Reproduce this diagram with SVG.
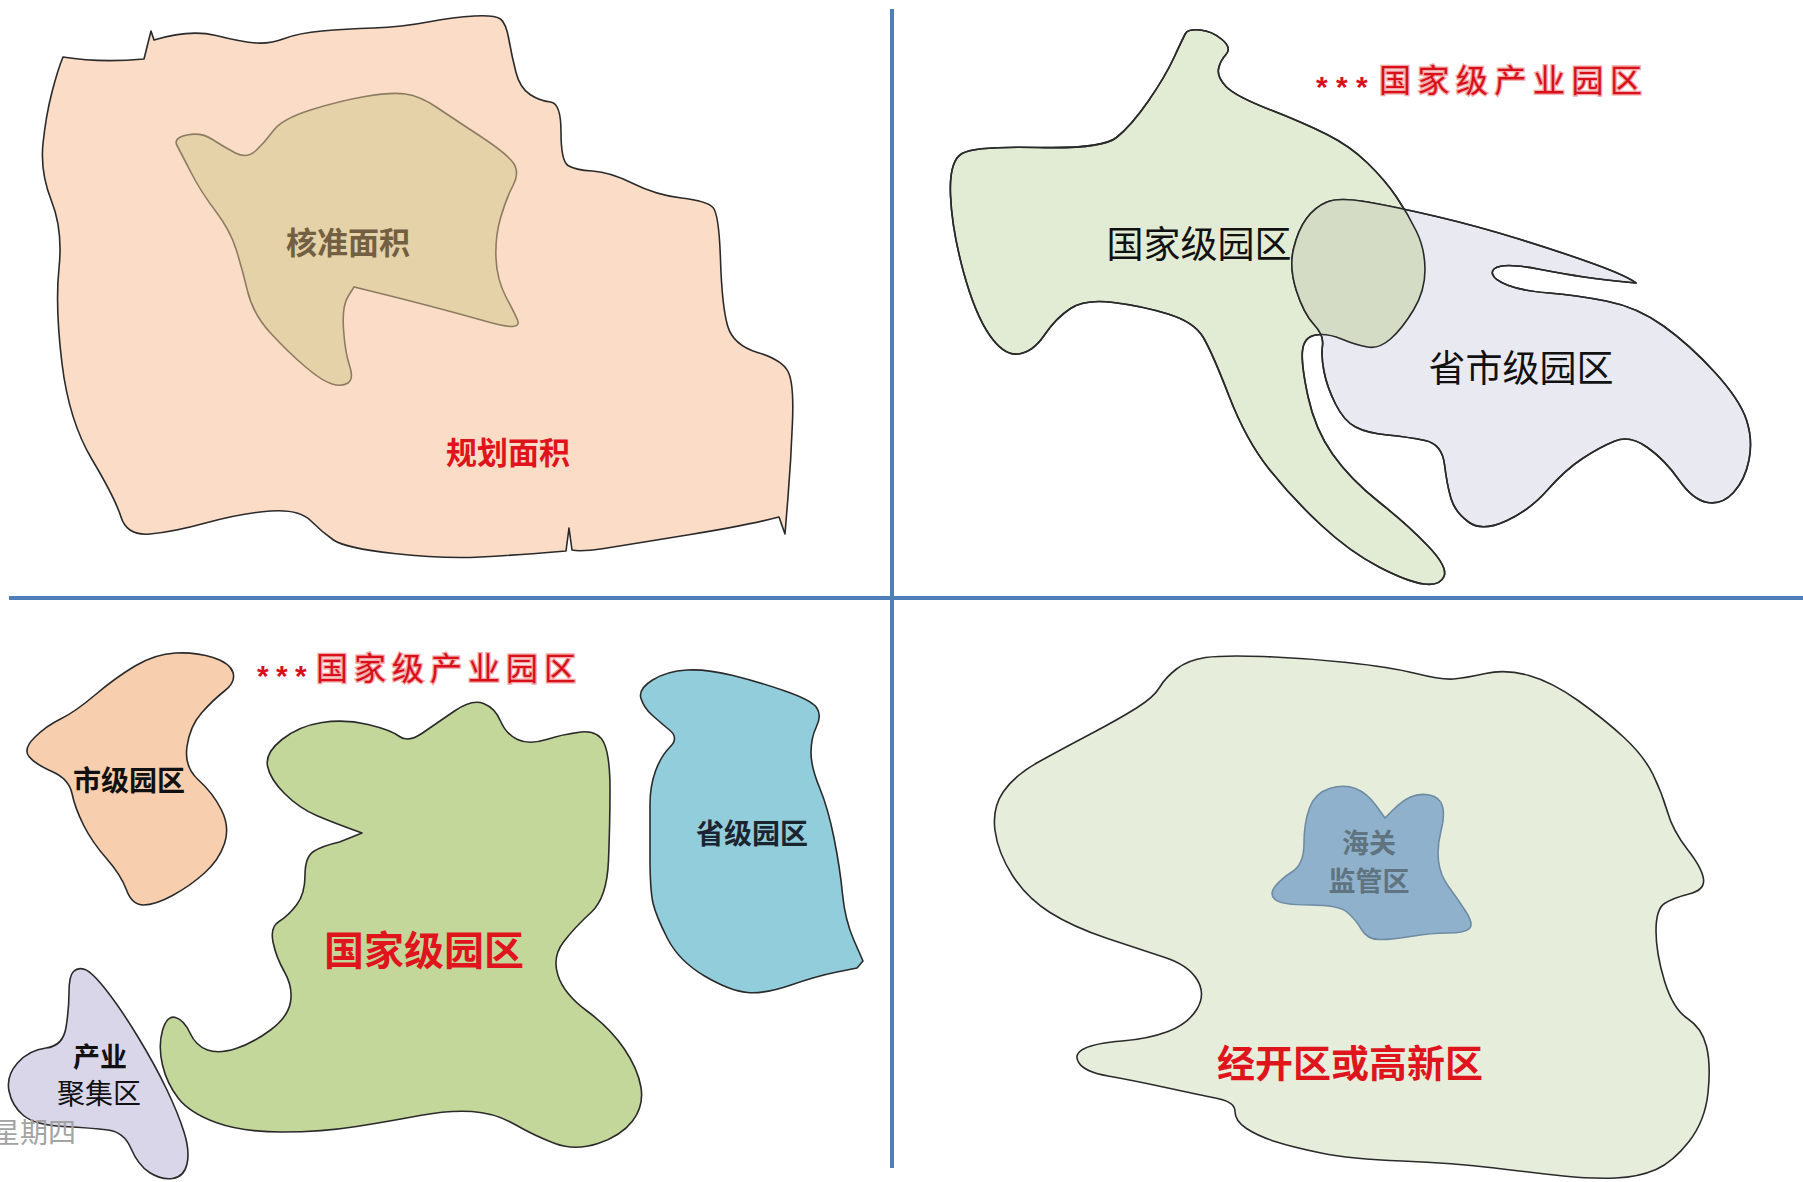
<svg xmlns="http://www.w3.org/2000/svg" width="1803" height="1182" viewBox="0 0 1803 1182">
<style>
.sh{stroke:#2a2a2a;stroke-width:1.6;stroke-linejoin:round}
.t{font-family:"Noto Sans CJK SC","Noto Sans",sans-serif;text-anchor:middle;dominant-baseline:central}
.b{font-weight:bold}
.red{fill:#e0141c}
.blk{fill:#111}
.title{font-family:"Noto Sans CJK SC","Noto Sans",sans-serif;font-size:32px;fill:#d8101a;stroke:#f2a8a8;stroke-width:2.6;paint-order:stroke;dominant-baseline:central}
.ast{font-family:"Liberation Sans",sans-serif;font-size:30px;font-weight:bold;fill:#d8101a;dominant-baseline:central}
</style>
<defs>
<path id="pG" d="M 1200,30 Q 1212,31 1222,39.5 Q 1232,48 1226,54.5 Q 1220,61 1218.5,69 Q 1217,77 1226,86.5 Q 1235,96 1269.5,109.5 Q 1304,123 1327,134.5 Q 1350,146 1367.5,163 Q 1385,180 1396.5,197 Q 1408,214 1416.5,231.5 Q 1425,249 1425,270 Q 1425,291 1413.5,310 Q 1402,329 1390.5,339 Q 1379,349 1367.5,347 Q 1356,345 1341.5,339 Q 1327,333 1315.5,335 Q 1304,337 1302.5,350.5 Q 1301,364 1308,396.5 Q 1315,429 1332.5,454 Q 1350,479 1379,502 Q 1408,525 1428,546 Q 1448,567 1444,576.5 Q 1440,586 1424,584 Q 1408,582 1379,567 Q 1350,552 1321,525 Q 1292,498 1269,469 Q 1246,440 1229,396 Q 1212,352 1203,337 Q 1194,322 1168,314 Q 1142,306 1113.5,302.5 Q 1085,299 1070.5,308.5 Q 1056,318 1044.5,335 Q 1033,352 1018.5,354 Q 1004,356 989.5,335 Q 975,314 963.5,272 Q 952,230 950.5,195.5 Q 949,161 962,153.5 Q 975,146 1038.5,147.5 Q 1102,149 1116.5,137.5 Q 1131,126 1148,101.5 Q 1165,77 1174,57.5 Q 1183,38 1185.5,33.5 Q 1188,29 1200,30 Z"/>
<path id="pL" d="M 1367.5,202 Q 1396,207 1436.5,216.5 Q 1477,226 1520.5,239.5 Q 1564,253 1595.5,264.5 Q 1627,276 1636,283 Q 1604,280 1584,277 Q 1564,274 1538,269 Q 1512,264 1501.5,266 Q 1491,268 1492.5,274 Q 1494,280 1508.5,285.5 Q 1523,291 1549,293 Q 1575,295 1606,301 Q 1637,307 1663.5,326 Q 1690,345 1715,372.5 Q 1740,400 1746.5,420 Q 1753,440 1749,460 Q 1745,480 1733.5,492.5 Q 1722,505 1707.5,502.5 Q 1693,500 1679,480 Q 1665,460 1647.5,447.5 Q 1630,435 1615,441 Q 1600,447 1582.5,458.5 Q 1565,470 1547.5,490 Q 1530,510 1506,521 Q 1482,532 1468.5,522 Q 1455,512 1451,498.5 Q 1447,485 1444.5,464.5 Q 1442,444 1425,440.5 Q 1408,437 1387.5,435 Q 1367,433 1355.5,427 Q 1344,421 1335.5,404 Q 1327,387 1324,371.5 Q 1321,356 1322.5,345.5 Q 1324,335 1314,324.5 Q 1304,314 1296.5,291 Q 1289,268 1293.5,249 Q 1298,230 1306.5,218.5 Q 1315,207 1327,202 Q 1339,197 1367.5,202 Z"/>
<clipPath id="cG"><use href="#pG"/></clipPath>
</defs>
<rect width="1803" height="1182" fill="#ffffff"/>
<g id="connectors">
<line x1="892" y1="9" x2="892" y2="1168" stroke="#4f7fb8" stroke-width="4"/>
<line x1="9" y1="598" x2="1803" y2="598" stroke="#4f7fb8" stroke-width="4"/>
</g>
<g id="planned-area">
<path class="sh" fill="#fbdcc6" d="M 63,57 Q 100,63 144,59 L 151,31 L 154,40 Q 190,29 216,35.5 Q 242,42 256,43 Q 270,44 284.5,38.5 Q 299,33 322,31 Q 345,29 373.5,28 Q 402,27 428,22 Q 454,17 474.5,16 Q 495,15 500.5,19 Q 506,23 509,40 Q 512,57 516,72.5 Q 520,88 530,94.5 Q 540,101 550.5,102 Q 561,103 561,132 Q 561,161 568,165.5 Q 575,170 592.5,171 Q 610,172 633,183.5 Q 656,195 681.5,198 Q 707,201 713,207.5 Q 719,214 720.5,260 Q 722,306 727.5,325.5 Q 733,345 757.5,352.5 Q 782,360 788,371.5 Q 794,383 792.5,421.5 Q 791,460 788,497 L 785,534 L 779,517 Q 748,525 690.5,534.5 Q 633,544 604,548.5 Q 580,552 572,550 L 569,528 L 566,551 Q 518,555 480.5,557 Q 443,559 394,553.5 Q 345,548 333.5,540 Q 322,532 310.5,520.5 Q 299,509 270.5,511 Q 242,513 207.5,522.5 Q 173,532 150,534 Q 127,536 121,517 Q 115,498 92,459.5 Q 69,421 62,363.5 Q 55,306 59,268 Q 63,230 51.5,201 Q 40,172 43,143.5 Q 46,115 52,92 Q 58,69 63,57 Z"/>
<text class="t b red" x="508" y="450" font-size="31">规划面积</text>
</g>
<g id="approved-area">
<path fill="#e6d2a8" stroke="#8c7d62" stroke-width="1.6" d="M 187,135 Q 201,132 212.5,139.5 Q 224,147 235.5,153 Q 247,159 256,150.5 Q 265,142 273.5,130.5 Q 282,119 310.5,110 Q 339,101 365,96.5 Q 391,92 405.5,94 Q 420,96 437,107.5 Q 454,119 480,136 Q 506,153 513,162.5 Q 520,172 513,185.5 Q 506,199 500.5,218 Q 495,237 496,258.5 Q 497,280 506,297 Q 515,314 517.5,320 Q 520,326 513,326.5 Q 506,327 483,320.5 Q 460,314 431.5,306.5 Q 403,299 378.5,293 L 354,287 L 348,296.5 Q 342,306 343.5,329 Q 345,352 349.5,365.5 Q 354,379 348,383 Q 342,387 332,384 Q 322,381 305,366.5 Q 288,352 270.5,333 Q 253,314 247.5,291 Q 242,268 236,249 Q 230,230 215.5,211 Q 201,192 191,172.5 Q 181,153 177,145.5 Q 173,138 187,135 Z"/>
<text class="t b" x="348" y="240" font-size="31" fill="#735f42">核准面积</text>
</g>
<g id="title-tr">
<text class="ast" x="1316 1336 1356" y="86">***</text>
<text class="title" x="1379 1417.5 1456 1494.5 1533 1571.5 1610" y="78">国家级产业园区</text>
</g>
<g id="national-park-tr">
<use href="#pG" class="sh" fill="#e2ebd3"/>
</g>
<g id="provincial-park-tr">
<use href="#pL" class="sh" fill="#e9e9f2"/>
<use href="#pL" fill="#d4dcc5" clip-path="url(#cG)"/>
<use href="#pG" class="sh" fill="none"/>
<use href="#pL" class="sh" fill="none"/>
</g>
<text class="t blk" x="1199" y="242" font-size="37">国家级园区</text>
<text class="t blk" x="1521" y="366" font-size="37">省市级园区</text>
<g id="title-bl">
<text class="ast" x="257 276 295" y="675">***</text>
<text class="title" x="316 354 392 430 468 506 544" y="666">国家级产业园区</text>
</g>
<g id="city-park">
<path class="sh" fill="#f8cfae" d="M 175.5,653 Q 196,652 213,657.5 Q 230,663 233,672.5 Q 236,682 224.5,691 Q 213,700 201.5,713 Q 190,726 187,746.5 Q 184,767 198.5,780 Q 213,793 221.5,810 Q 230,827 224.5,843.5 Q 219,860 204.5,873 Q 190,886 172.5,895.5 Q 155,905 143.5,905 Q 132,905 126.5,890 Q 121,875 106.5,858.5 Q 92,842 83.5,825 Q 75,808 72,793.5 Q 69,779 52,771.5 Q 35,764 29,756.5 Q 23,749 34.5,737.5 Q 46,726 60.5,719 Q 75,712 95,695 Q 115,678 135,666 Q 155,654 175.5,653 Z"/>
<text class="t b blk" x="129" y="779" font-size="28">市级园区</text>
</g>
<g id="national-park-bl">
<path class="sh" fill="#c4d79b" d="M 282,739.5 Q 299,726 322,722.5 Q 345,719 368,724.5 Q 391,730 399.5,736.5 Q 408,743 422.5,733 Q 437,723 454.5,711 Q 472,699 483.5,703.5 Q 495,708 500.5,721 Q 506,734 517.5,739.5 Q 529,745 546.5,739.5 Q 564,734 581,732 Q 598,730 604,743 Q 610,756 610,789.5 Q 610,823 608.5,860.5 Q 607,898 591,912.5 Q 575,927 563.5,942 Q 552,957 558,975.5 Q 564,994 587,1011 Q 610,1028 624,1048.5 Q 638,1069 641,1087.5 Q 644,1106 632.5,1121 Q 621,1136 598,1143.5 Q 575,1151 555,1143.5 Q 535,1136 515,1124.5 Q 495,1113 472,1111.5 Q 449,1110 420,1115.5 Q 391,1121 356.5,1126.5 Q 322,1132 282,1132 Q 242,1132 216,1122.5 Q 190,1113 178.5,1098.5 Q 167,1084 162.5,1065 Q 158,1046 162.5,1030.5 Q 167,1015 175.5,1017.5 Q 184,1020 190,1033 Q 196,1046 207.5,1050 Q 219,1054 236,1048.5 Q 253,1043 270.5,1030 Q 288,1017 290.5,1002 Q 293,987 284.5,972 Q 276,957 273,942 Q 270,927 279,921.5 Q 288,916 296.5,905 Q 305,894 305,875.5 Q 305,857 313.5,851.5 Q 322,846 339.5,842 L 362,833 Q 334,823 316.5,815.5 Q 299,808 284.5,793.5 Q 270,779 267.5,766 Q 265,753 282,739.5 Z"/>
<text class="t b red" x="424" y="948" font-size="40">国家级园区</text>
</g>
<g id="provincial-park-bl">
<path class="sh" fill="#92cddc" d="M 652.5,680 Q 667,671 687,670 Q 707,669 733,675.5 Q 759,682 785,691 Q 811,700 816.5,707.5 Q 822,715 816.5,726.5 Q 811,738 811,752.5 Q 811,767 819.5,787.5 Q 828,808 834,838 Q 840,868 842.5,894 Q 845,920 854,940.5 L 863,961 L 857,968 Q 847,970 837,972 Q 817,976 791,985 Q 765,994 747.5,992.5 Q 730,991 704.5,976 Q 679,961 667.5,938.5 Q 656,916 653,903 Q 650,890 650,856.5 Q 650,823 650,804.5 Q 650,786 655.5,771 Q 661,756 670,747 Q 679,738 670,730.5 Q 661,723 652.5,715.5 Q 644,708 641,698.5 Q 638,689 652.5,680 Z"/>
<text class="t b" x="752" y="832" font-size="28" fill="#1a2530">省级园区</text>
</g>
<g id="industry-cluster">
<path class="sh" fill="#d9d6ea" d="M 85,969.5 Q 92,972 106.5,990.5 Q 121,1009 138,1037 Q 155,1065 166.5,1089 Q 178,1113 184,1132 Q 190,1151 187,1164 Q 184,1177 172.5,1178.5 Q 161,1180 149.5,1172.5 Q 138,1165 131,1148.5 Q 124,1132 108,1130 Q 92,1128 63.5,1126.5 Q 35,1125 23.5,1115.5 Q 12,1106 9,1091 Q 6,1076 17.5,1063 Q 29,1050 46,1048 Q 63,1046 66,1027.5 Q 69,1009 69,992.5 Q 69,976 73.5,971.5 Q 78,967 85,969.5 Z"/>
<text class="t b blk" x="100" y="1055" font-size="27">产业</text>
<text class="t blk" x="99" y="1092" font-size="28">聚集区</text>
</g>
<text x="76" y="1131" font-family="Noto Sans CJK SC, sans-serif" font-size="28" fill="#a3a3a3" text-anchor="end" dominant-baseline="central">星期四</text>
<g id="dev-zone">
<path class="sh" fill="#e6eedb" d="M 1205.5,657.5 Q 1223,655 1263.5,656.5 Q 1304,658 1347,662.5 Q 1390,667 1416,673.5 Q 1442,680 1453.5,679 Q 1465,678 1485.5,673.5 Q 1506,669 1529,675.5 Q 1552,682 1578,700.5 Q 1604,719 1624,737.5 Q 1644,756 1653,774.5 Q 1662,793 1667.5,812 Q 1673,831 1687.5,849.5 Q 1702,868 1703.5,879 Q 1705,890 1689,894 Q 1673,898 1664.5,903.5 Q 1656,909 1656,931 Q 1656,953 1664.5,981 Q 1673,1009 1687.5,1018.5 Q 1702,1028 1706.5,1046.5 Q 1711,1065 1708,1093 Q 1705,1121 1689,1141.5 Q 1673,1162 1656,1169.5 Q 1639,1177 1615.5,1178 Q 1592,1179 1563.5,1176 Q 1535,1173 1494.5,1168 Q 1454,1163 1402,1161 Q 1350,1159 1321,1153 Q 1292,1147 1275,1141.5 Q 1258,1136 1246.5,1128.5 Q 1235,1121 1235,1111.5 Q 1235,1102 1217.5,1098.5 Q 1200,1095 1165.5,1087.5 Q 1131,1080 1108,1076 Q 1085,1072 1079,1063 Q 1073,1054 1084.5,1048.5 Q 1096,1043 1122,1041 Q 1148,1039 1168,1031.5 Q 1188,1024 1197,1009 Q 1206,994 1197,979.5 Q 1188,965 1165,957.5 Q 1142,950 1107.5,938.5 Q 1073,927 1050,912.5 Q 1027,898 1012.5,875.5 Q 998,853 995,830.5 Q 992,808 1003.5,791.5 Q 1015,775 1038.5,762 Q 1062,749 1090.5,734 Q 1119,719 1136.5,708 Q 1154,697 1159.5,687.5 Q 1165,678 1176.5,669 Q 1188,660 1205.5,657.5 Z"/>
<text class="t b red" x="1350" y="1060" font-size="38">经开区或高新区</text>
</g>
<g id="customs-zone">
<path fill="#8fb1cb" stroke="#6f8ba3" stroke-width="1.6" d="M 1329.5,788.5 Q 1344,784 1355.5,788.5 Q 1367,793 1376,805.5 L 1385,818 L 1393.5,809.5 Q 1402,801 1410.5,797 Q 1419,793 1429.5,795 Q 1440,797 1442.5,806.5 Q 1445,816 1441,831 Q 1437,846 1438.5,860.5 Q 1440,875 1448.5,886.5 Q 1457,898 1465.5,911 Q 1474,924 1469.5,928.5 Q 1465,933 1448,933 Q 1431,933 1410.5,936.5 Q 1390,940 1378.5,939.5 Q 1367,939 1361.5,929.5 Q 1356,920 1347.5,912.5 Q 1339,905 1310,905 Q 1281,905 1275,899.5 Q 1269,894 1275,886.5 Q 1281,879 1292.5,871.5 Q 1304,864 1304,843.5 Q 1304,823 1309.5,808 Q 1315,793 1329.5,788.5 Z"/>
<text class="t b" x="1369" y="841" font-size="27" fill="#5f7380">海关</text>
<text class="t b" x="1369" y="879" font-size="27" fill="#5f7380">监管区</text>
</g>
</svg>
